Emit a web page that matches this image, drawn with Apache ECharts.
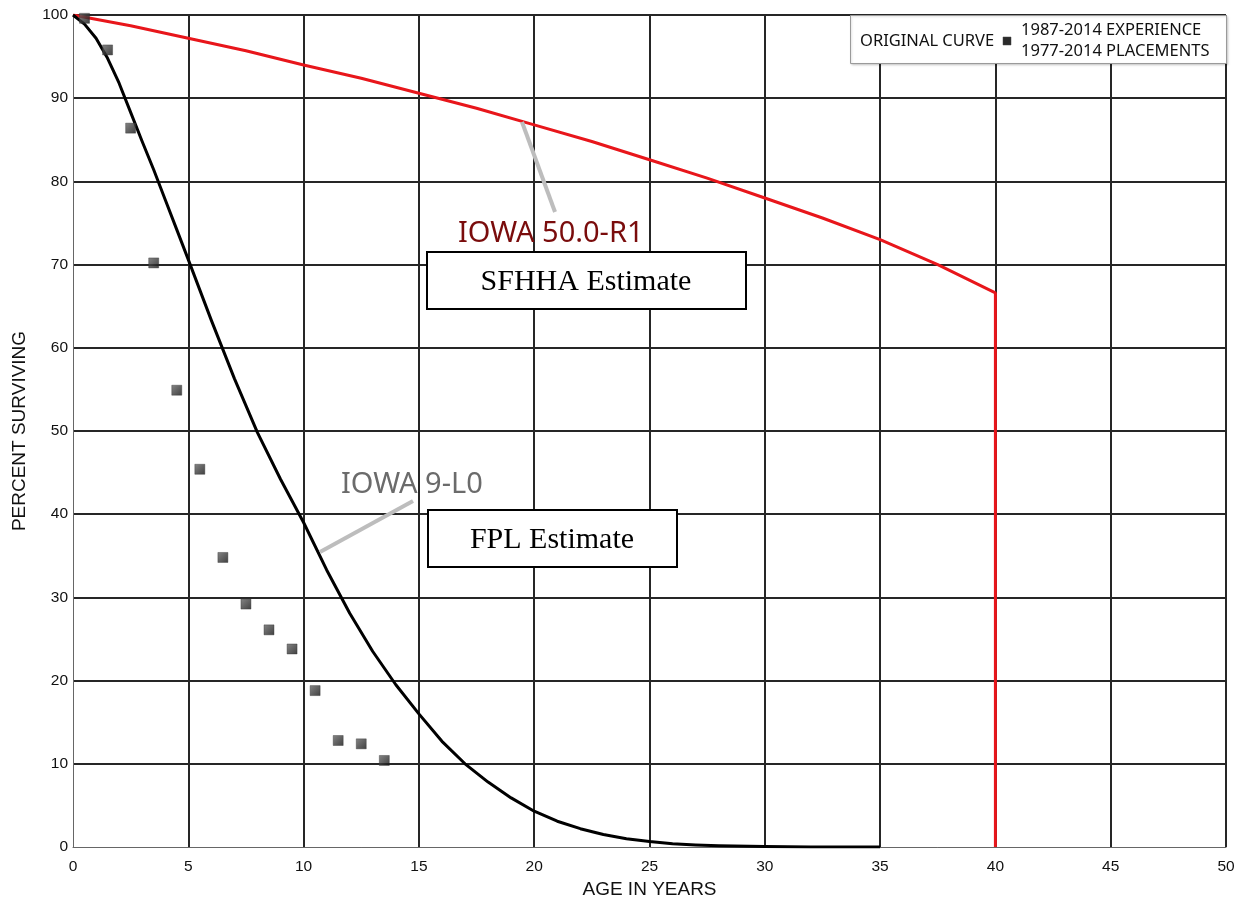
<!DOCTYPE html>
<html>
<head>
<meta charset="utf-8">
<title>Survivor Curves</title>
<script src="https://cdn.jsdelivr.net/npm/echarts@6/dist/echarts.min.js"></script>
<style>
  html, body { margin: 0; padding: 0; background: #fff; }
  #chart { width: 1248px; height: 897px; }
</style>
</head>
<body>
<div id="chart"></div>
<script>
// Iowa 50.0-R1 survivor curve (SFHHA estimate), truncated at age 40
const r1Ages = [0, 2.5, 5, 7.5, 10, 12.5, 15, 17.5, 20, 22.5, 25, 27.5, 30, 32.5, 35, 37.5, 40, 40];
const r1Pct  = [100, 98.7, 97.2, 95.7, 94.0, 92.4, 90.6, 88.8, 86.8, 84.8, 82.6, 80.4, 78.0, 75.6, 73.0, 70.0, 66.6, 0];

// Iowa 9-L0 survivor curve (FPL estimate)
const l0Ages = [0, 0.5, 1, 1.5, 2, 2.5, 3, 3.5, 4, 4.5, 5, 6, 7, 8, 9, 10, 11, 12, 13, 14, 15, 16, 17, 18, 19, 20, 21, 22, 23, 24, 25, 26, 27, 28, 30, 32, 35];
const l0Pct  = [100, 98.9, 97.2, 94.8, 91.8, 88.3, 84.8, 81.4, 77.8, 74.2, 70.6, 63.3, 56.3, 49.8, 44.2, 39.0, 33.3, 28.1, 23.5, 19.5, 16.0, 12.7, 10.0, 7.8, 5.9, 4.3, 3.1, 2.2, 1.5, 1.0, 0.65, 0.4, 0.25, 0.15, 0.05, 0, 0];

// Observed placements / experience
const obsAges = [0.5, 1.5, 2.5, 3.5, 4.5, 5.5, 6.5, 7.5, 8.5, 9.5, 10.5, 11.5, 12.5, 13.5];
const obsPct  = [99.6, 95.8, 86.4, 70.2, 54.9, 45.4, 34.8, 29.2, 26.1, 23.8, 18.8, 12.8, 12.4, 10.4];

// Axis settings
const xMin = 0, xMax = 50, xStep = 5;
const yMin = 0, yMax = 100, yStep = 10;

const zip = (a, b) => a.map((v, i) => [v, b[i]]);

const chart = echarts.init(document.getElementById('chart'), null, { renderer: 'canvas' });

const gridColor = '#262626';
const tickFont = { fontFamily: 'Liberation Sans, Arial, sans-serif', fontSize: 15.5, color: '#111' };
const titleFont = { fontFamily: 'Liberation Sans, Arial, sans-serif', fontSize: 19, color: '#111' };

chart.setOption({
  animation: false,
  backgroundColor: '#fff',
  grid: { left: 73, right: 22, top: 15, bottom: 50, containLabel: false, outerBoundsMode: 'none' },
  xAxis: {
    type: 'value', min: xMin, max: xMax, interval: xStep,
    name: 'AGE IN YEARS', nameLocation: 'middle', nameGap: 28,
    nameTextStyle: titleFont,
    axisLine: { show: true, onZero: false, lineStyle: { color: '#666', width: 1 } },
    axisTick: { show: false },
    axisLabel: Object.assign({ margin: 12 }, tickFont),
    splitLine: { show: true, showMinLine: false, lineStyle: { color: gridColor, width: 2 } }
  },
  yAxis: {
    type: 'value', min: yMin, max: yMax, interval: yStep,
    name: 'PERCENT SURVIVING', nameLocation: 'middle', nameGap: 44,
    nameTextStyle: titleFont,
    axisLine: { show: true, onZero: false, lineStyle: { color: '#666', width: 1 } },
    axisTick: { show: false },
    axisLabel: Object.assign({ margin: 5 }, tickFont),
    splitLine: { show: true, showMinLine: false, lineStyle: { color: gridColor, width: 2 } }
  },
  series: [
    {
      name: 'IOWA 50.0-R1', type: 'line', data: zip(r1Ages, r1Pct),
      showSymbol: false, smooth: false,
      lineStyle: { color: '#e8161b', width: 3 }, z: 3
    },
    {
      name: 'IOWA 9-L0', type: 'line', data: zip(l0Ages, l0Pct),
      showSymbol: false, smooth: false,
      lineStyle: { color: '#000', width: 3, join: 'round' }, z: 4
    },
    {
      name: 'Observed', type: 'scatter', data: zip(obsAges, obsPct),
      symbol: 'rect', symbolSize: 10,
      itemStyle: {
        color: new echarts.graphic.LinearGradient(0, 0, 1, 1, [
          { offset: 0, color: '#666' }, { offset: 1, color: '#111' }
        ]),
        borderColor: '#333', borderWidth: 0.5
      },
      z: 5
    }
  ],
  graphic: [
    // leader lines from curves to their labels
    { type: 'line', shape: { x1: 522, y1: 122, x2: 555, y2: 212 }, style: { stroke: '#bdbdbd', lineWidth: 4 }, z: 10 },
    { type: 'line', shape: { x1: 320, y1: 552, x2: 413, y2: 501 }, style: { stroke: '#bdbdbd', lineWidth: 4 }, z: 10 },
    // curve labels
    { type: 'text', left: 458, top: 219, z: 11,
      style: { text: 'IOWA 50.0-R1', fill: '#7a0c0c', font: '29px "Noto Sans", sans-serif' } },
    { type: 'text', left: 341, top: 470, z: 11,
      style: { text: 'IOWA 9-L0', fill: '#6b6b6b', font: '29px "Noto Sans", sans-serif' } },
    // estimate boxes
    { type: 'rect', shape: { x: 427, y: 252, width: 319, height: 57 },
      style: { fill: '#fff', stroke: '#000', lineWidth: 2 }, z: 12 },
    { type: 'text', x: 586, y: 282, z: 13,
      style: { text: 'SFHHA Estimate', fill: '#000', font: '30px "Liberation Serif", "Times New Roman", serif', align: 'center', verticalAlign: 'middle' } },
    { type: 'rect', shape: { x: 428, y: 510, width: 249, height: 57 },
      style: { fill: '#fff', stroke: '#000', lineWidth: 2 }, z: 12 },
    { type: 'text', x: 552, y: 540, z: 13,
      style: { text: 'FPL Estimate', fill: '#000', font: '30px "Liberation Serif", "Times New Roman", serif', align: 'center', verticalAlign: 'middle' } },
    // legend
    { type: 'rect', shape: { x: 850.5, y: 15.5, width: 376, height: 48 },
      style: { fill: '#fff', stroke: '#9a9a9a', lineWidth: 1, shadowColor: 'rgba(0,0,0,0.15)', shadowBlur: 2, shadowOffsetX: 1, shadowOffsetY: 1 }, z: 20 },
    { type: 'text', x: 860, y: 41, z: 21,
      style: { text: 'ORIGINAL CURVE', fill: '#111', font: '16.5px "Noto Sans", sans-serif', verticalAlign: 'middle' } },
    { type: 'rect', shape: { x: 1003, y: 37, width: 8, height: 8 },
      style: { fill: '#2a2a2a', stroke: '#444', lineWidth: 0.5 }, z: 21 },
    { type: 'text', x: 1021, y: 30, z: 21,
      style: { text: '1987-2014 EXPERIENCE', fill: '#111', font: '16.5px "Noto Sans", sans-serif', verticalAlign: 'middle' } },
    { type: 'text', x: 1021, y: 51, z: 21,
      style: { text: '1977-2014 PLACEMENTS', fill: '#111', font: '16.5px "Noto Sans", sans-serif', verticalAlign: 'middle' } }
  ]
});
</script>
</body>
</html>
